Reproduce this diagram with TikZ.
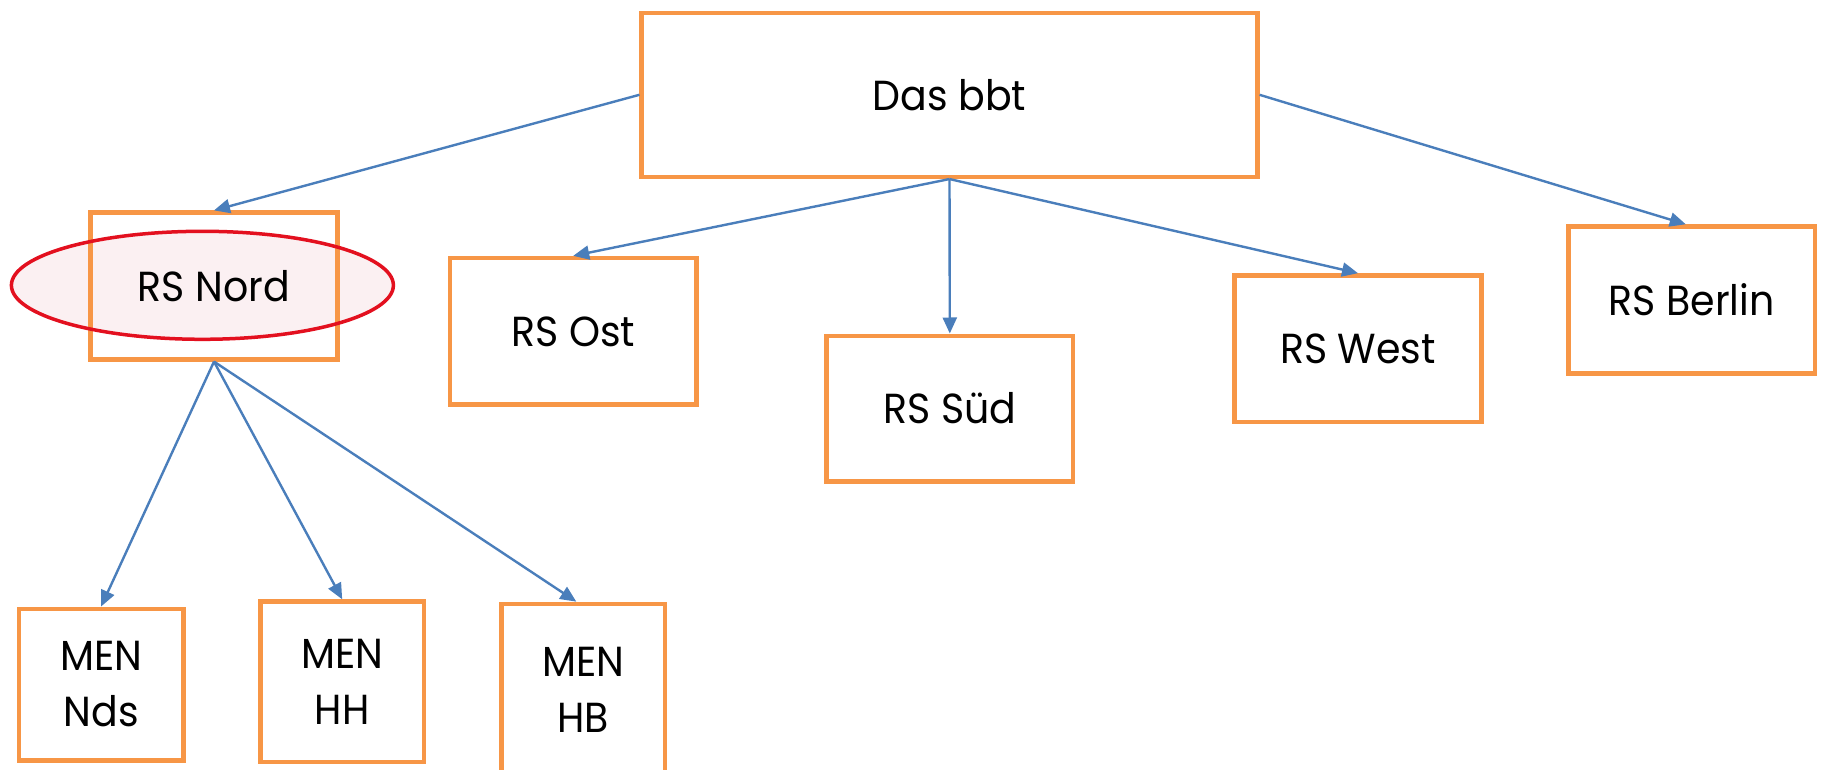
\documentclass[tikz,border=0pt]{standalone}
\usepackage{fontspec}
\setmainfont{Poppins}[FakeStretch=0.94]
\usetikzlibrary{arrows.meta,shapes.geometric}
\definecolor{boxorange}{HTML}{F79646}
\definecolor{linkblue}{HTML}{4A7EBB}
\definecolor{hlred}{HTML}{E3101F}
\definecolor{hlpink}{HTML}{FBF0F2}
\begin{document}
\begin{tikzpicture}[x=1pt,y=-1pt,
  orgbox/.style={draw=boxorange,line width=4.5pt,fill=none,inner sep=0pt,
    align=center,font=\fontsize{42}{56}\selectfont},
  link/.style={draw=linkblue,line width=2.4pt,-{Triangle[length=16pt,width=14pt]}},
  hlfill/.style={ellipse,fill=hlpink,inner sep=0pt,minimum width=382pt,minimum height=108pt},
  hlring/.style={ellipse,draw=hlred,line width=3.5pt,inner sep=0pt,minimum width=382pt,minimum height=108pt}]
\useasboundingbox (0,0) rectangle (1823,770);
\fill[white] (0,0) rectangle (1823,770);
\node[hlfill] (hlf) at (202.4,285.3) {};
\node[orgbox,minimum width=615.6pt,minimum height=164pt] (bbt) at (949.5,94.8) {Das bbt};
\node[orgbox,minimum width=246.6pt,minimum height=146.7pt] (nord) at (214,286) {RS Nord};
\node[orgbox,minimum width=246.5pt,minimum height=146.6pt] (ost) at (573.2,331.4) {RS Ost};
\node[orgbox,minimum width=246.7pt,minimum height=145.5pt] (sued) at (949.8,408.5) {RS Süd};
\node[orgbox,minimum width=246.6pt,minimum height=146.7pt] (west) at (1358,348.8) {RS West};
\node[orgbox,minimum width=246.8pt,minimum height=146.9pt] (berlin) at (1691.8,300) {RS Berlin};
\node[orgbox,minimum width=164.5pt,minimum height=151.5pt] (nds) at (101.1,684.5) {MEN\\Nds};
\node[orgbox,minimum width=163.8pt,minimum height=160.5pt] (hh) at (342.2,681.8) {MEN\\HH};
\node[orgbox,minimum width=163.8pt,minimum height=171.8pt] (hb) at (583.3,689.8) {MEN\\HB};
\node[hlring] (hl) at (hlf.center) {};
\draw[link] (bbt.west) -- (nord.north);
\draw[link] (bbt.south) -- (ost.north);
\draw[link] (bbt.south) -- (sued.north);
\draw[link] (bbt.south) -- (west.north);
\draw[link] (bbt.east) -- ([xshift=-6pt]berlin.north);
\draw[link] (nord.south) -- (nds.north);
\draw[link] (nord.south) -- (hh.north);
\draw[link] (nord.south) -- ([xshift=-7pt]hb.north);
\end{tikzpicture}
\end{document}
